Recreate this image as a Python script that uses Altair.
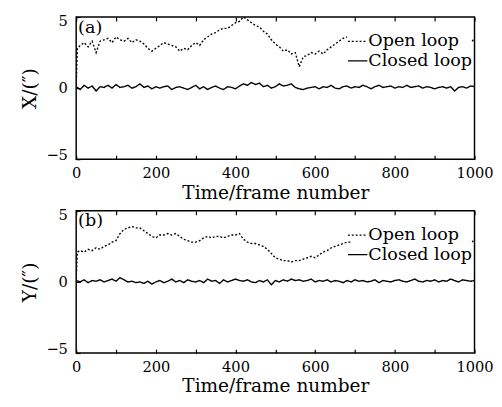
import altair as alt
import pandas as pd

# ---------------- data ----------------
open_a_frames = [0, 3, 10, 20, 30, 40, 50, 60, 70, 80, 90, 100, 110, 120, 130, 140, 150, 160, 170, 180, 190,
                 200, 210, 220, 230, 240, 250, 260, 270, 280, 290, 300, 310, 320, 330, 340, 350, 360, 370,
                 380, 390, 400, 410, 420, 430, 440, 450, 460, 470, 480, 490, 500, 510, 520, 530, 540, 550,
                 560, 570, 580, 590, 600, 610, 620, 630, 640, 650, 660, 670, 680]
open_a_values = [0.2, 2.8, 3.0, 3.2, 2.9, 3.3, 2.5, 3.3, 3.4, 3.5, 3.2, 3.6, 3.4, 3.3, 3.5, 3.2, 3.4, 3.3, 3.1,
                 2.8, 2.6, 2.8, 3.0, 3.2, 3.1, 3.0, 2.9, 2.6, 2.8, 2.7, 3.0, 3.2, 3.0, 3.4, 3.6, 3.8, 3.9,
                 4.1, 4.2, 4.2, 4.4, 4.6, 4.7, 5.0, 4.8, 4.6, 4.4, 4.3, 4.0, 3.8, 3.4, 3.1, 2.9, 2.6, 2.7,
                 2.4, 2.5, 1.5, 2.2, 2.3, 2.5, 2.4, 2.6, 2.4, 2.7, 2.9, 3.1, 3.3, 3.5, 3.6]
open_a_tail_frames = [994, 1000]
open_a_tail_values = [3.3, 3.5]

open_b_frames = [0, 3, 10, 20, 30, 40, 50, 60, 70, 80, 90, 100, 110, 120, 130, 140, 150, 160, 170, 180, 190,
                 200, 210, 220, 230, 240, 250, 260, 270, 280, 290, 300, 310, 320, 330, 340, 350, 360, 370,
                 380, 390, 400, 410, 420, 430, 440, 450, 460, 470, 480, 490, 500, 510, 520, 530, 540, 550,
                 560, 570, 580, 590, 600, 610, 620, 630, 640, 650, 660, 670, 680, 690]
open_b_values = [0.2, 2.1, 2.2, 2.1, 2.3, 2.2, 2.4, 2.3, 2.5, 2.6, 2.8, 2.9, 3.4, 3.7, 3.8, 3.9, 3.8, 3.8, 3.6,
                 3.4, 3.2, 3.1, 3.3, 3.3, 3.4, 3.3, 3.4, 3.2, 3.0, 2.9, 2.8, 2.8, 2.9, 3.1, 3.2, 3.1, 3.2,
                 3.2, 3.1, 3.2, 3.3, 3.3, 3.4, 3.0, 2.8, 2.7, 2.7, 2.6, 2.5, 2.3, 2.0, 1.7, 1.6, 1.5, 1.5,
                 1.4, 1.5, 1.5, 1.6, 1.7, 1.8, 1.7, 1.9, 2.1, 2.2, 2.4, 2.5, 2.6, 2.7, 2.8, 2.8]
open_b_tail_frames = [994, 1000]
open_b_tail_values = [2.8, 3.0]

closed_a_values = [0.1, -0.1, 0.2, 0.0, 0.15, -0.2, 0.1, 0.05, 0.2, 0.0, 0.25, 0.05, 0.1, 0.2, 0.0, 0.1,
                   0.3, 0.05, 0.15, -0.05, 0.1, 0.0, 0.1, 0.15, -0.1, 0.05, 0.1, 0.0, -0.1, 0.05, 0.2,
                   -0.05, 0.1, -0.1, 0.05, 0.15, 0.0, -0.1, 0.1, 0.05, -0.05, 0.15, 0.3, 0.2, 0.4, 0.25,
                   0.35, 0.1, 0.2, 0.0, 0.1, 0.3, 0.15, 0.2, 0.3, 0.05, -0.05, -0.1, 0.0, 0.05, 0.1,
                   -0.05, 0.1, 0.05, 0.2, 0.0, -0.05, 0.1, 0.15, 0.0, 0.1, 0.05, 0.2, 0.1, -0.05, 0.1,
                   0.2, 0.05, 0.1, 0.15, 0.0, 0.1, 0.05, 0.2, 0.05, 0.1, 0.15, 0.0, 0.1, 0.05, -0.05,
                   0.05, 0.1, 0.0, 0.1, -0.2, 0.05, 0.1, 0.0, 0.15, 0.1]
closed_b_values = [0.1, 0.0, 0.15, -0.05, 0.1, 0.05, 0.15, 0.0, 0.1, 0.2, 0.05, 0.3, 0.15, 0.0, 0.05, -0.05,
                   0.0, -0.1, 0.05, -0.15, 0.0, 0.1, -0.05, 0.05, 0.2, 0.0, 0.1, -0.05, 0.15, 0.05, 0.0,
                   0.1, -0.05, 0.2, 0.05, 0.1, -0.1, 0.15, 0.0, 0.1, 0.2, 0.1, 0.05, 0.15, 0.0, -0.05,
                   0.1, 0.0, 0.15, -0.2, 0.1, 0.0, 0.15, 0.05, 0.2, 0.1, 0.15, 0.05, 0.1, 0.2, 0.0, 0.1,
                   0.05, 0.15, 0.0, 0.1, 0.05, -0.05, 0.1, 0.0, 0.15, 0.05, 0.1, 0.0, 0.05, 0.15, -0.05,
                   0.1, 0.05, 0.0, 0.1, 0.15, 0.05, 0.0, 0.1, 0.2, 0.05, 0.0, 0.1, 0.05, 0.15, 0.0, 0.1,
                   0.05, 0.2, 0.1, 0.0, 0.15, 0.1, 0.05, 0.1]
closed_frames = list(range(0, 10 * len(closed_a_values), 10))

series_names = ["Open loop", "Closed loop"]
x_ticks = [0, 100, 200, 300, 400, 500, 600, 700, 800, 900, 1000]
y_ticks = [-5, 0, 5]

FONT = "DejaVu Serif"


def build_df(open_f, open_v, tail_f, tail_v, closed_v):
    rows = []
    for f, v in zip(open_f, open_v):
        rows.append({"frame": f, "value": v, "series": "Open loop", "seg": "o1"})
    for f, v in zip(tail_f, tail_v):
        rows.append({"frame": f, "value": v, "series": "Open loop", "seg": "o2"})
    for f, v in zip(closed_frames, closed_v):
        rows.append({"frame": f, "value": v, "series": "Closed loop", "seg": "c1"})
    return pd.DataFrame(rows)


def panel(df, ytitle, tag):
    xscale = alt.Scale(domain=[0, 1000], nice=False)
    yscale = alt.Scale(domain=[-5, 5], nice=False)
    lines = alt.Chart(df).mark_line(strokeWidth=1.4, color="black", clip=True).encode(
        x=alt.X("frame:Q", scale=xscale,
                axis=alt.Axis(values=x_ticks, title="Time/frame number", orient="bottom", format="d",
                              labelExpr="datum.value % 200 == 0 ? datum.label : ''",
                              offset=-4, tickSize=4, domain=False, labelPadding=7, labelFlush=False,
                              grid=False, titlePadding=3)),
        y=alt.Y("value:Q", scale=yscale,
                axis=alt.Axis(values=y_ticks, title=ytitle, offset=-4, tickSize=4,
                              domain=False, labelPadding=9, grid=False, titlePadding=7,
                              labelFlush=True, labelFlushOffset=3)),
        strokeDash=alt.StrokeDash("series:N",
                                  scale=alt.Scale(domain=series_names, range=[[2, 2], [1, 0]]),
                                  legend=alt.Legend(title=None, orient="none", legendX=278, legendY=14,
                                                    symbolType="stroke", symbolSize=400,
                                                    symbolStrokeColor="black", symbolStrokeWidth=1.4,
                                                    labelFont=FONT, labelFontSize=18, labelColor="black",
                                                    labelOffset=0, rowPadding=-2, symbolOffset=0,
                                                    padding=0)),
        detail="seg:N",
    )
    top = alt.Chart(df).mark_line(opacity=0).encode(
        x=alt.X("frame:Q", scale=xscale,
                axis=alt.Axis(values=x_ticks, orient="top", labels=False, title=None,
                              offset=-4, tickSize=4, domain=False, grid=False)),
    )
    label = alt.Chart(pd.DataFrame({"t": [tag]})).mark_text(
        align="left", baseline="top", font=FONT, fontSize=18, color="black"
    ).encode(x=alt.value(2), y=alt.value(2), text="t:N")
    return alt.layer(lines, top, label).resolve_axis(x="independent").properties(width=409, height=146)


df_a = build_df(open_a_frames, open_a_values, open_a_tail_frames, open_a_tail_values, closed_a_values)
df_b = build_df(open_b_frames, open_b_values, open_b_tail_frames, open_b_tail_values, closed_b_values)

chart = alt.vconcat(
    panel(df_a, "X/(″)", "(a)"),
    panel(df_b, "Y/(″)", "(b)"),
    spacing=4,
).resolve_legend(strokeDash="independent").properties(
    padding={"left": 12, "top": 0, "right": 0, "bottom": 0},
    background="white",
).configure_view(stroke="black", strokeWidth=1.5).configure_axis(
    labelFont=FONT, labelFontSize=15, labelColor="black", titleFont=FONT, titleFontSize=19,
    titleColor="black", titleFontWeight="normal", tickColor="black", tickWidth=1.2
)

chart.save("out.html", embed_options={"renderer": "svg", "actions": False})
